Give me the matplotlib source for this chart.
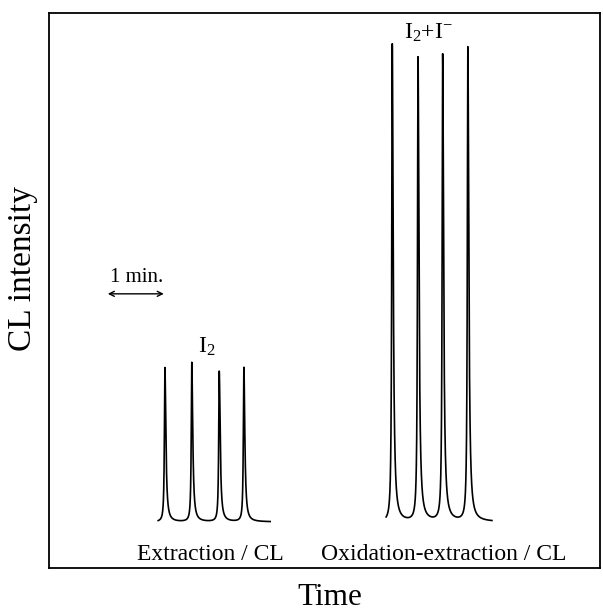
import numpy as np
import matplotlib
matplotlib.use("Agg")
import matplotlib.pyplot as plt

plt.rcParams['font.family'] = ['Liberation Serif', 'DejaVu Serif']
plt.rcParams['mathtext.fontset'] = 'custom'
plt.rcParams['mathtext.rm'] = 'Liberation Serif'
plt.rcParams['mathtext.default'] = 'rm'

# ---- data (time in min, intensity in arbitrary units above baseline) ----
group_labels = ["Extraction / CL", "Oxidation-extraction / CL"]
group_species = [r"I$_2$", r"I$_2$+I$^{-}$"]
group_spans = [(1.95, 3.95), (6.02, 7.91)]
peak_times_1 = [2.07, 2.55, 3.04, 3.48]
peak_heights_1 = [27.8, 28.7, 27.1, 27.8]
peak_times_2 = [6.13, 6.59, 7.03, 7.48]
peak_heights_2 = [86.1, 83.6, 84.1, 85.4]

def trace(span, times, heights, gl=0.011, gr=0.02):
    t = np.union1d(np.linspace(span[0], span[1], 30000), np.array(times))
    y = np.zeros_like(t)
    for t0, h in zip(times, heights):
        g = np.where(t < t0, gl, gr)
        y += h * g**2 / (g**2 + (t - t0)**2)
    return t, y

fig = plt.figure(figsize=(6.03, 6.11), dpi=100)
ax = fig.add_axes([49/603, 43/611, 551/603, 555/611])
ax.set_xlim(0, 9.84)
ax.set_ylim(-8.3, 91.7)

for span, times, heights in [(group_spans[0], peak_times_1, peak_heights_1),
                             (group_spans[1], peak_times_2, peak_heights_2)]:
    t, y = trace(span, times, heights)
    ax.plot(t, y, color='black', lw=1.2)

# group labels
ax.text(2.875, -6.85, group_labels[0], ha='center', va='baseline', fontsize=17)
ax.text(7.05, -6.85, group_labels[1], ha='center', va='baseline', fontsize=17)
ax.text(2.82, 31.6, group_species[0], ha='center', va='center', fontsize=17)
ax.text(6.77, 88.1, group_species[1], ha='center', va='center', fontsize=17)

# 1 min scale bar
ax.annotate('', xy=(1.05, 41.1), xytext=(2.05, 41.1),
            arrowprops=dict(arrowstyle='<->', lw=1.0, color='black',
                            mutation_scale=9, shrinkA=0, shrinkB=0))
ax.text(1.57, 43.2, '1 min.', ha='center', va='baseline', fontsize=15)

ax.set_xticks([])
ax.set_yticks([])
for s in ax.spines.values():
    s.set_linewidth(1.3)

ax.set_ylabel('CL intensity', fontsize=24, va='baseline')
ax.yaxis.set_label_coords(-0.033, 0.54)
ax.set_xlabel('Time', fontsize=22.5, va='baseline')
ax.xaxis.set_label_coords(0.51, -0.066)

fig.savefig('out.png', dpi=100, facecolor='white')
